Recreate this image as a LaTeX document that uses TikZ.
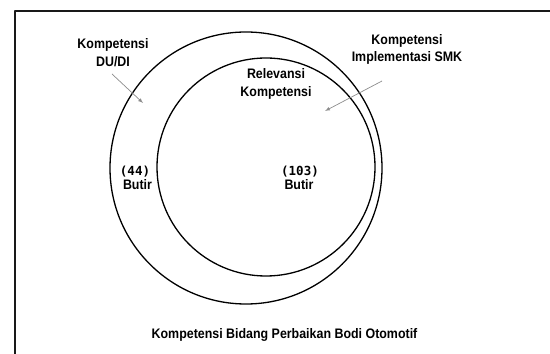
\documentclass[tikz,border=0pt]{standalone}
\usepackage{fontspec}
\setmainfont{Liberation Sans}[FakeStretch=0.9]
\setmonofont{DejaVu Sans Mono}
\begin{document}
\begin{tikzpicture}[>=latex,line join=bevel,
  lbl/.style={align=center,inner sep=0pt,font=\bfseries\fontsize{13.8bp}{17.5bp}\selectfont},
  count/.style={inner sep=0pt,font=\ttfamily\bfseries\fontsize{12.5bp}{14bp}\selectfont},
  ring/.style={draw=black,line width=1.3bp},
  pointer/.style={draw=black!45,line width=0.7bp,->,shorten >=0pt},]
\useasboundingbox (0bp,0bp) rectangle (550bp,354bp);
%%
\draw [black!90,line width=2bp] (14.5bp,0bp) -- (14.5bp,342.5bp) -- (550bp,342.5bp);
\draw [ring] (246bp,186bp) circle (136bp);
\draw [ring] (266bp,187bp) circle (109bp);
%
\node (lbl_dudi) at (113bp,301.5bp) [lbl] {Kompetensi\\DU/DI};
  \node (lbl_smk) at (407bp,304.5bp) [lbl] {Kompetensi\\Implementasi SMK};
  \node (lbl_relevansi) at (276bp,270bp) [lbl] {Relevansi\\Kompetensi};
  \node (cnt_dudi) at (135bp,182bp) [count] {(44)};
  \node (butir_dudi) at (137.5bp,169bp) [lbl] {Butir};
  \node (cnt_rel) at (300bp,182bp) [count] {(103)};
  \node (butir_rel) at (299bp,169bp) [lbl] {Butir};
  \node (lbl_bidang) at (284.5bp,19bp) [lbl] {Kompetensi Bidang Perbaikan Bodi Otomotif};
  \coordinate (dudi_from) at (112bp,280bp);
  \coordinate (dudi_to) at (143bp,251bp);
  \coordinate (smk_from) at (382bp,273bp);
  \coordinate (smk_to) at (325bp,243bp);
  \draw [pointer] (dudi_from) -- (dudi_to);
  \draw [pointer] (smk_from) -- (smk_to);
%
\end{tikzpicture}
\end{document}
